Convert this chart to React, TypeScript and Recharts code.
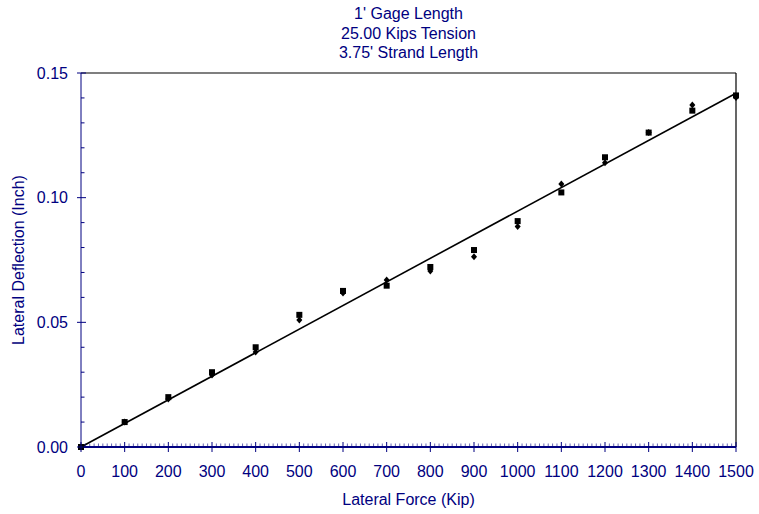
import React from 'react';
import { ComposedChart, Scatter, XAxis, YAxis, ReferenceLine } from 'recharts';

// ---- data ----
const forceKip = [0, 100, 200, 300, 400, 500, 600, 700, 800, 900, 1000, 1100, 1200, 1300, 1400, 1500];
const deflectionSquare = [0, 0.010, 0.020, 0.030, 0.040, 0.053, 0.0626, 0.0647, 0.0722, 0.079, 0.0906, 0.1021, 0.1162, 0.1261, 0.1349, 0.1410];
const deflectionDiamond = [0, 0.010, 0.0193, 0.0289, 0.0381, 0.0509, 0.0618, 0.067, 0.0706, 0.0763, 0.0884, 0.1055, 0.114, 0.1261, 0.1372, 0.1402];
const fitForce = [0, 1500];
const fitDeflection = [0, 0.1419];

const xMajorTicks = [0, 100, 200, 300, 400, 500, 600, 700, 800, 900, 1000, 1100, 1200, 1300, 1400, 1500];
const yMajorTicks = [0, 0.05, 0.1, 0.15];
const xAllTicks = Array.from({ length: 151 }, (_, i) => i * 10);
const yAllTicks = Array.from({ length: 16 }, (_, i) => +(i * 0.01).toFixed(2));

const titleLines = ["1' Gage Length", '25.00 Kips Tension', "3.75' Strand Length"];
const xAxisTitle = 'Lateral Force (Kip)';
const yAxisTitle = 'Lateral Deflection (Inch)';

const squareData = forceKip.map((x, i) => ({ x, y: deflectionSquare[i] }));
const diamondData = forceKip.map((x, i) => ({ x, y: deflectionDiamond[i] }));
const fitData = fitForce.map((x, i) => ({ x, y: fitDeflection[i] }));

const NAVY = '#000080';
const FONT = '"Liberation Sans", Arial, sans-serif';
const X_TICK_SIZE = 5;
const X_TICK_MARGIN = 13.5;
const Y_TICK_SIZE = 4;
const Y_TICK_MARGIN = 9;

const isMajorX = (v: number) => xMajorTicks.some((t) => Math.abs(t - v) < 1e-6);
const isMajorY = (v: number) => yMajorTicks.some((t) => Math.abs(t - v) < 1e-9);

const XTick = (p: any) => {
  const v = p.payload.value;
  const axisY = p.y - X_TICK_SIZE - X_TICK_MARGIN;
  if (isMajorX(v)) {
    return (
      <g>
        <line x1={p.x} x2={p.x} y1={axisY - 5} y2={axisY + 5} stroke={NAVY} strokeWidth={1} />
        <text x={p.x} y={p.y} dy="0.71em" textAnchor="middle" fill={NAVY} fontSize={16} fontFamily={FONT}>
          {String(v)}
        </text>
      </g>
    );
  }
  return <line x1={p.x} x2={p.x} y1={axisY - 3.5} y2={axisY} stroke={NAVY} strokeWidth={1} strokeOpacity={0.6} />;
};

const YTick = (p: any) => {
  const v = p.payload.value;
  const axisX = p.x + Y_TICK_SIZE + Y_TICK_MARGIN;
  if (isMajorY(v)) {
    return (
      <g>
        <line x1={axisX - 4} x2={axisX + 5} y1={p.y} y2={p.y} stroke={NAVY} strokeWidth={1} />
        <text x={p.x} y={p.y} dy="0.355em" textAnchor="end" fill={NAVY} fontSize={16} fontFamily={FONT}>
          {v.toFixed(2)}
        </text>
      </g>
    );
  }
  return <line x1={axisX} x2={axisX + 3.5} y1={p.y} y2={p.y} stroke={NAVY} strokeWidth={1} />;
};

const SquareShape = (p: any) =>
  p.cx == null ? <g /> : <rect x={p.cx - 3} y={p.cy - 3} width={6} height={6} fill="#000" />;
const DiamondShape = (p: any) =>
  p.cx == null ? (
    <g />
  ) : (
    <path
      d={`M${p.cx},${p.cy - 3.5}L${p.cx + 3},${p.cy}L${p.cx},${p.cy + 3.5}L${p.cx - 3},${p.cy}Z`}
      fill="#000"
    />
  );
const NoShape = () => <g />;

export default function App() {
  return (
    <div style={{ position: 'absolute', left: 0, top: 0, width: 759, height: 514, background: '#fff' }}>
      <ComposedChart width={759} height={514} margin={{ top: 73, right: 23, bottom: 37, left: 21 }}>
        <XAxis
          type="number"
          dataKey="x"
          domain={[0, 1500]}
          ticks={xAllTicks}
          interval={0}
          height={30}
          tickSize={X_TICK_SIZE}
          tickMargin={X_TICK_MARGIN}
          tickLine={false}
          axisLine={{ stroke: NAVY, strokeWidth: 2 }}
          tick={XTick}
        />
        <YAxis
          type="number"
          dataKey="y"
          domain={[0, 0.15]}
          ticks={yAllTicks}
          interval={0}
          width={60}
          tickSize={Y_TICK_SIZE}
          tickMargin={Y_TICK_MARGIN}
          tickLine={false}
          axisLine={{ stroke: NAVY, strokeWidth: 1 }}
          tick={YTick}
        />
        <ReferenceLine y={0.15} stroke="#000" strokeWidth={1.2} />
        <ReferenceLine x={1500} stroke="#000" strokeWidth={1.2} />
        <Scatter
          data={fitData}
          line={{ stroke: '#000', strokeWidth: 1.6 }}
          shape={NoShape}
          isAnimationActive={false}
        />
        <Scatter data={diamondData} shape={DiamondShape} isAnimationActive={false} />
        <Scatter data={squareData} shape={SquareShape} isAnimationActive={false} />
      </ComposedChart>
      <svg
        width={759}
        height={514}
        style={{ position: 'absolute', left: 0, top: 0, pointerEvents: 'none' }}
      >
        {titleLines.map((t, i) => (
          <text
            key={t}
            x={408.5}
            y={19 + i * 19.5}
            textAnchor="middle"
            fill={NAVY}
            fontSize={16}
            fontFamily={FONT}
          >
            {t}
          </text>
        ))}
        <text x={408.5} y={505} textAnchor="middle" fill={NAVY} fontSize={16} fontFamily={FONT}>
          {xAxisTitle}
        </text>
        <text
          x={24}
          y={260}
          transform="rotate(-90, 24, 260)"
          textAnchor="middle"
          fill={NAVY}
          fontSize={16}
          fontFamily={FONT}
        >
          {yAxisTitle}
        </text>
      </svg>
    </div>
  );
}
